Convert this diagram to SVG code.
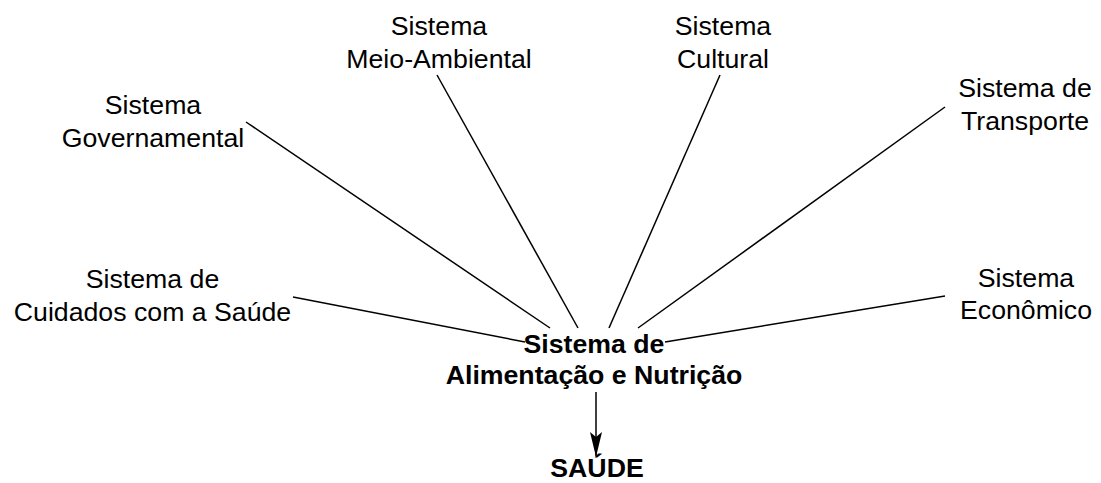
<svg xmlns="http://www.w3.org/2000/svg" width="1101" height="483" viewBox="0 0 1101 483">
<style>
text{font-family:"Liberation Sans",Arial,sans-serif;font-size:26.7px;fill:#000;text-anchor:middle}
.b{font-weight:bold}
.c line{stroke:#000;stroke-width:1.5;fill:none}
</style>
<defs>
<marker id="ah" markerUnits="userSpaceOnUse" markerWidth="26" markerHeight="14" refX="24" refY="6" orient="auto" viewBox="0 0 26 12">
<path d="M0,0 L5,6 L0,12 L25,6 Z" fill="#000"/>
</marker>
</defs>
<rect width="1101" height="483" fill="#fff"/>
<g class="c" id="connectors">
<line x1="293" y1="297" x2="525" y2="342"/>
<line x1="246" y1="122" x2="550" y2="328"/>
<line x1="437" y1="75" x2="578" y2="328"/>
<line x1="720" y1="75" x2="609" y2="328"/>
<line x1="945" y1="107" x2="638" y2="328"/>
<line x1="945" y1="296" x2="665" y2="342"/>
<line x1="596" y1="392" x2="596" y2="456" marker-end="url(#ah)"/>
</g>
<g id="cuidados"><text x="152.5" y="288">Sistema de</text><text x="152.5" y="321">Cuidados com a Saúde</text></g>
<g id="governamental"><text x="153" y="114">Sistema</text><text x="153" y="147">Governamental</text></g>
<g id="meioambiental"><text x="439" y="35">Sistema</text><text x="439" y="68">Meio-Ambiental</text></g>
<g id="cultural"><text x="723" y="35">Sistema</text><text x="723" y="68">Cultural</text></g>
<g id="transporte"><text x="1025" y="97">Sistema de</text><text x="1025" y="130">Transporte</text></g>
<g id="economico"><text x="1026" y="287">Sistema</text><text x="1026" y="319">Econômico</text></g>
<g id="alimentacao"><text class="b" x="594" y="353">Sistema de</text><text class="b" x="594" y="384">Alimentação e Nutrição</text></g>
<g id="saude"><text class="b" x="597" y="477">SAÚDE</text></g>
</svg>
